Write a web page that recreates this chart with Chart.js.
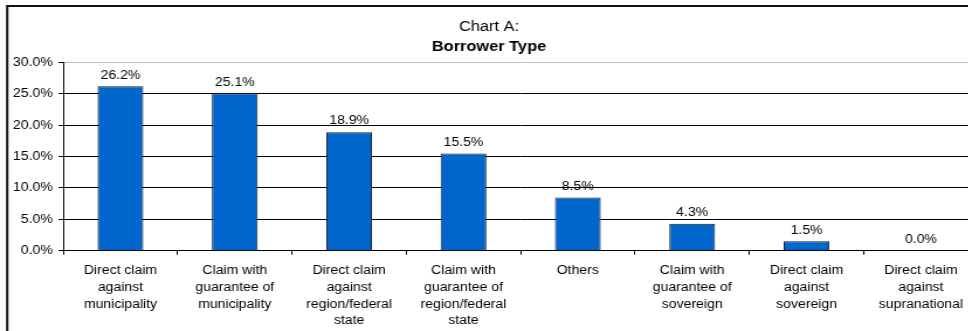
<!DOCTYPE html>
<html>
<head>
<meta charset="utf-8">
<script src="https://cdn.jsdelivr.net/npm/chart.js@4/dist/chart.umd.min.js"></script>
<style>
  html, body { margin: 0; padding: 0; overflow: hidden; background: #fff; }
  #c { display: block; width: 986px !important; height: 345px !important; }
</style>
</head>
<body>
<canvas id="c" width="843" height="345" style="width:986px;height:345px;display:block"></canvas>
<script>
// ---- data ----
const categories = [
  ["Direct claim", "against", "municipality"],
  ["Claim with", "guarantee of", "municipality"],
  ["Direct claim", "against", "region/federal", "state"],
  ["Claim with", "guarantee of", "region/federal", "state"],
  "Others",
  ["Claim with", "guarantee of", "sovereign"],
  ["Direct claim", "against", "sovereign"],
  ["Direct claim", "against", "supranational"]
];
const shares = [26.2, 25.1, 18.9, 15.5, 8.5, 4.3, 1.5, 0.0];
const yTicks = [0, 5, 10, 15, 20, 25, 30];
const titleLine = "Chart A:";
const subtitleLine = "Borrower Type";

// ---- styling ----
const FONT = "'Liberation Sans', Arial, sans-serif";
Chart.defaults.font.family = FONT;
Chart.defaults.color = '#000';

const frame = {
  id: 'frame',
  beforeDraw(chart) {
    const ctx = chart.ctx;
    ctx.save();
    ctx.fillStyle = '#fff';
    ctx.fillRect(0, 0, chart.width, chart.height);
    ctx.strokeStyle = '#111';
    ctx.lineWidth = 2;
    ctx.beginPath();
    ctx.moveTo(6.2, chart.height + 10);
    ctx.lineTo(6.2, 6);
    ctx.lineTo(chart.width + 10, 6);
    ctx.stroke();
    ctx.restore();
  }
};

const valueLabels = {
  id: 'valueLabels',
  afterDatasetsDraw(chart) {
    const ctx = chart.ctx;
    const meta = chart.getDatasetMeta(0);
    ctx.save();
    ctx.font = '12px ' + FONT;
    ctx.fillStyle = '#000';
    ctx.textAlign = 'center';
    ctx.textBaseline = 'middle';
    meta.data.forEach((bar, i) => {
      ctx.fillText(shares[i].toFixed(1) + '%', bar.x, bar.y - 11);
    });
    ctx.restore();
  }
};

new Chart(document.getElementById('c'), {
  type: 'bar',
  data: {
    labels: categories,
    datasets: [{
      data: shares,
      backgroundColor: '#0066CC',
      borderColor: '#1a1a1a',
      borderWidth: 1,
      categoryPercentage: 1.0,
      barPercentage: 0.4
    }]
  },
  options: {
    responsive: false,
    animation: false,
    devicePixelRatio: 1,
    layout: { padding: { left: 0, right: 6.8, top: 0, bottom: 0 } },
    plugins: {
      legend: { display: false },
      tooltip: { enabled: false },
      title: {
        display: true,
        text: titleLine,
        color: '#000',
        font: { size: 14, weight: 'normal', lineHeight: 1.2 },
        padding: { top: 19, bottom: 0 }
      },
      subtitle: {
        display: true,
        text: subtitleLine,
        color: '#000',
        font: { size: 14, weight: 'bold', lineHeight: 1.2 },
        padding: { top: 2.5, bottom: 7.4 }
      }
    },
    scales: {
      x: {
        grid: {
          offset: true,
          drawOnChartArea: false,
          drawTicks: true,
          tickLength: 4,
          tickColor: '#000',
          color: '#000'
        },
        border: { display: true, color: '#000', width: 1 },
        ticks: {
          autoSkip: false,
          maxRotation: 0,
          minRotation: 0,
          padding: 8,
          color: '#000',
          font: { size: 12, lineHeight: 1.39 }
        },
        afterFit(scale) { scale.height = 345 - 250.7; }
      },
      y: {
        min: 0,
        max: 30,
        afterBuildTicks(scale) { scale.ticks = yTicks.map(v => ({ value: v })); },
        grid: {
          color: ctx => (ctx.tick && ctx.tick.value === 30) ? '#bdbdbd' : '#000',
          tickColor: '#000',
          tickLength: 4,
          lineWidth: 1
        },
        border: { display: true, color: '#000', width: 1 },
        ticks: {
          padding: 5,
          color: '#000',
          font: { size: 12 },
          callback: v => Number(v).toFixed(1) + '%'
        },
        afterFit(scale) { scale.width = 54.1; }
      }
    }
  },
  plugins: [frame, valueLabels]
});
</script>
</body>
</html>
